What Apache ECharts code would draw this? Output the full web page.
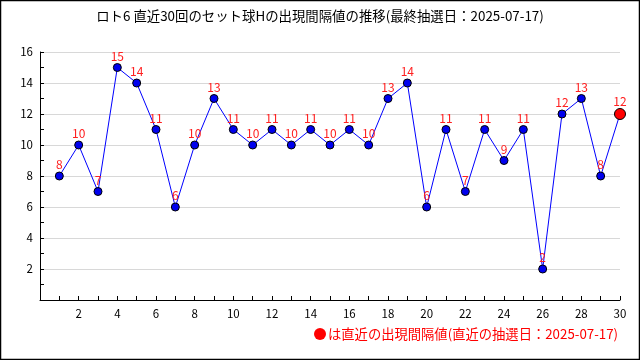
<!DOCTYPE html>
<html><head><meta charset="utf-8">
<script src="https://cdn.jsdelivr.net/npm/echarts@6/dist/echarts.min.js"></script>
<style>html,body{margin:0;padding:0;background:#fff}#c{width:640px;height:360px}</style>
</head><body><div id="c"></div>
<script>
const titleText = 'ロト6 直近30回のセット球Hの出現間隔値の推移(最終抽選日：2025-07-17)';
const footerText = 'は直近の出現間隔値(直近の抽選日：2025-07-17)';
const draws = [1,2,3,4,5,6,7,8,9,10,11,12,13,14,15,16,17,18,19,20,21,22,23,24,25,26,27,28,29,30];
const intervals = [8,10,7,15,14,11,6,10,13,11,10,11,10,11,10,11,10,13,14,6,11,7,11,9,11,2,12,13,8,12];
const font = '"Noto Sans CJK JP", "DejaVu Sans", sans-serif';

const chart = echarts.init(document.getElementById('c'), null, {renderer:'canvas'});
const data = draws.map((d,i)=>{
  const last = i === draws.length-1;
  return {
    value:[d, intervals[i]],
    symbolSize: last ? 11 : 8,
    itemStyle: last ? {color:'#ff0000', borderColor:'#000', borderWidth:1} : undefined
  };
});
chart.setOption({
  animation:false,
  backgroundColor:'#fff',
  title:{text:titleText, left:'center', top:4, textStyle:{fontFamily:font, fontSize:13.4, fontWeight:'normal', color:'#000'}},
  grid:{left:40, right:20, top:52, bottom:60},
  xAxis:{type:'value', min:0, max:30, interval:2,
    axisLine:{lineStyle:{color:'#000', width:1}},
    axisTick:{inside:true, length:4, lineStyle:{color:'#000'}},
    minorTick:{show:true, splitNumber:2, length:4, lineStyle:{color:'#000'}},
    axisLabel:{color:'#000', fontFamily:font, fontSize:11.5, margin:8, formatter:v=> v===0?'':v},
    splitLine:{show:false}},
  yAxis:{type:'value', min:0, max:16, interval:2,
    axisLine:{show:true, lineStyle:{color:'#000', width:1}},
    axisTick:{show:true, inside:true, length:4, lineStyle:{color:'#000'}},
    minorTick:{show:true, splitNumber:2, length:4, lineStyle:{color:'#000'}},
    axisLabel:{color:'#000', fontFamily:font, fontSize:11.5, margin:7, formatter:v=> v===0?'':v},
    splitLine:{show:true, lineStyle:{color:'#d8d8d8', width:1}}},
  series:[{
    type:'line', data:data, symbol:'circle', symbolSize:8,
    lineStyle:{color:'#0000ff', width:1},
    itemStyle:{color:'#0000ee', borderColor:'#000', borderWidth:1},
    label:{show:true, position:'top', distance:1, color:'#ff2020', fontFamily:font, fontSize:12,
      formatter:p=>p.value[1]},
    z:3
  }],
  graphic:[
    {type:'rect', shape:{x:0.5,y:0.5,width:639,height:359}, style:{fill:'none', stroke:'#000', lineWidth:1.5}, silent:true},
    {type:'circle', shape:{cx:320, cy:334, r:6}, style:{fill:'#ff0000'}},
    {type:'text', x:328, y:334, style:{text:footerText, fill:'#ff0000', font:'13.3px ' + font, textVerticalAlign:'middle'}}
  ]
});
</script></body></html>
